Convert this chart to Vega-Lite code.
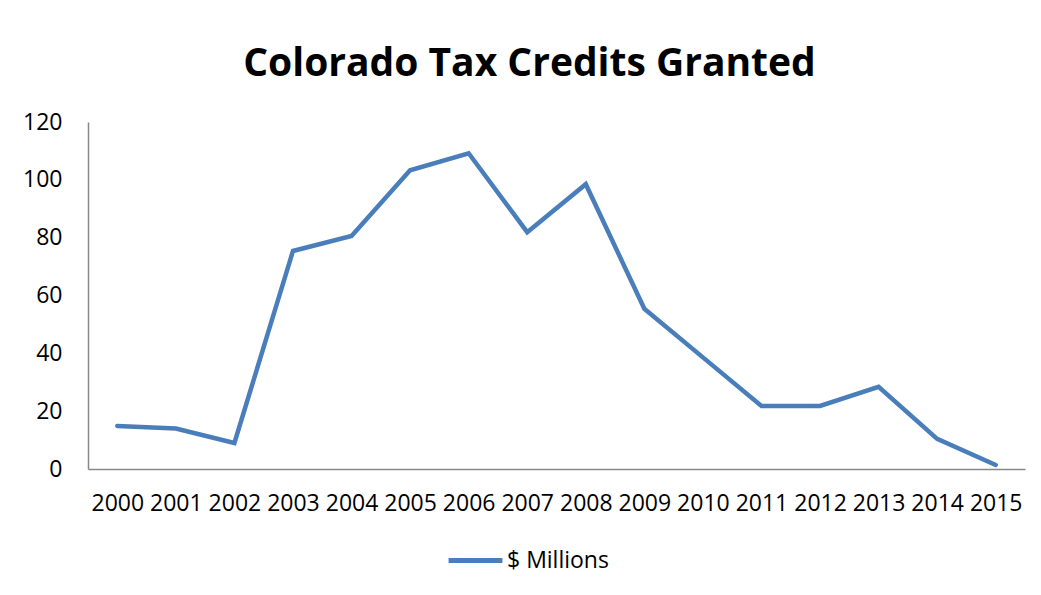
{
  "$schema": "https://vega.github.io/schema/vega-lite/v6.json",
  "width": 937,
  "height": 347,
  "autosize": {"type": "none"},
  "padding": {"left": 88, "top": 122, "right": 16, "bottom": 126},
  "background": "white",
  "title": {
    "text": "Colorado Tax Credits Granted",
    "font": "Open Sans",
    "fontSize": 39,
    "fontWeight": "bold",
    "color": "black",
    "anchor": "middle",
    "dx": -27,
    "offset": 27
  },
  "config": {"view": {"stroke": null}},
  "data": {
    "values": [
      {"year": "2000", "value": 14.9, "series": "$ Millions"},
      {"year": "2001", "value": 14.0, "series": "$ Millions"},
      {"year": "2002", "value": 9.0, "series": "$ Millions"},
      {"year": "2003", "value": 75.4, "series": "$ Millions"},
      {"year": "2004", "value": 80.6, "series": "$ Millions"},
      {"year": "2005", "value": 103.3, "series": "$ Millions"},
      {"year": "2006", "value": 109.2, "series": "$ Millions"},
      {"year": "2007", "value": 81.9, "series": "$ Millions"},
      {"year": "2008", "value": 98.5, "series": "$ Millions"},
      {"year": "2009", "value": 55.4, "series": "$ Millions"},
      {"year": "2010", "value": 38.6, "series": "$ Millions"},
      {"year": "2011", "value": 21.8, "series": "$ Millions"},
      {"year": "2012", "value": 21.8, "series": "$ Millions"},
      {"year": "2013", "value": 28.4, "series": "$ Millions"},
      {"year": "2014", "value": 10.4, "series": "$ Millions"},
      {"year": "2015", "value": 1.4, "series": "$ Millions"}
    ]
  },
  "mark": {"type": "line", "strokeWidth": 4.5, "strokeJoin": "miter", "strokeCap": "round"},
  "encoding": {
    "x": {
      "field": "year",
      "type": "ordinal",
      "scale": {"type": "point", "padding": 0.5},
      "axis": {
        "title": null,
        "labelAngle": 0,
        "ticks": false,
        "grid": false,
        "domainColor": "#888888",
        "domainWidth": 1.5,
        "labelFont": "Open Sans",
        "labelFontSize": 23,
        "labelColor": "black",
        "labelPadding": 23
      }
    },
    "y": {
      "field": "value",
      "type": "quantitative",
      "scale": {"domain": [0, 120], "nice": false},
      "axis": {
        "title": null,
        "values": [0, 20, 40, 60, 80, 100, 120],
        "ticks": false,
        "grid": false,
        "domainColor": "#888888",
        "domainWidth": 1.5,
        "labelFont": "Open Sans",
        "labelFontSize": 23,
        "labelColor": "black",
        "labelPadding": 26
      }
    },
    "color": {
      "field": "series",
      "type": "nominal",
      "scale": {"range": ["#4a7ebb"]},
      "legend": {
        "title": null,
        "orient": "none",
        "legendX": 358,
        "legendY": 409,
        "symbolType": "stroke",
        "symbolSize": 2900,
        "symbolStrokeWidth": 5,
        "labelFont": "Open Sans",
        "labelFontSize": 23,
        "labelColor": "black",
        "labelOffset": 2
      }
    }
  }
}
